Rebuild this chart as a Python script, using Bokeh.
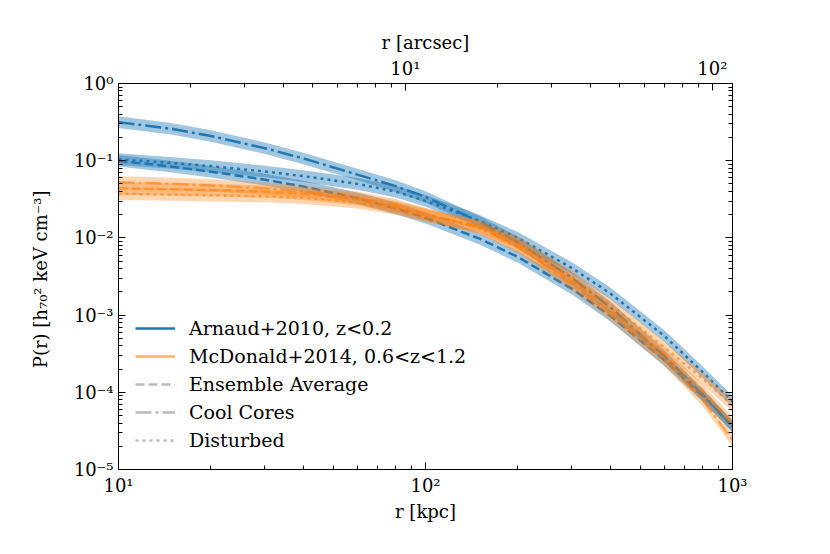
from bokeh.plotting import figure
from bokeh.models import (Range1d, LogAxis, LogScale, FixedTicker,
                          CustomJSTickFormatter, Legend, LegendItem)
from bokeh.embed import file_html
from bokeh.resources import INLINE

# ---------------- data ----------------
r_kpc = [10, 15, 20, 30, 40, 60, 80, 100, 150, 200, 300, 400, 600, 800, 1000]

# Arnaud+2010, z<0.2
a10_ensemble = [0.100, 0.0834, 0.0721, 0.0568, 0.0463, 0.0327, 0.0241, 0.0182,
                9.77e-3, 5.65e-3, 2.19e-3, 9.82e-4, 2.61e-4, 8.97e-5, 3.67e-5]
a10_cool = [0.316, 0.257, 0.209, 0.145, 0.107, 0.0661, 0.0468, 0.0339,
            0.0162, 8.71e-3, 3.02e-3, 1.26e-3, 2.95e-4, 9.33e-5, 3.55e-5]
a10_disturbed = [0.1047, 0.0933, 0.0851, 0.0724, 0.0631, 0.0501, 0.0398, 0.0302,
                 0.0166, 0.0100, 4.07e-3, 1.91e-3, 5.37e-4, 1.82e-4, 7.59e-5]

# McDonald+2014, 0.6<z<1.2
m14_ensemble = [0.0437, 0.0427, 0.0417, 0.0398, 0.0372, 0.0316, 0.0251, 0.0200,
                0.0138, 7.94e-3, 2.75e-3, 1.17e-3, 3.16e-4, 1.05e-4, 3.98e-5]
m14_cool = [0.0525, 0.0501, 0.0479, 0.0437, 0.0398, 0.0331, 0.0263, 0.0204,
            0.0135, 7.59e-3, 2.51e-3, 1.02e-3, 2.63e-4, 7.94e-5, 2.40e-5]
m14_disturbed = [0.0372, 0.0363, 0.0355, 0.0347, 0.0331, 0.0288, 0.0240, 0.0195,
                 0.0141, 8.71e-3, 3.16e-3, 1.38e-3, 3.80e-4, 1.51e-4, 6.76e-5]

# uncertainty band half-width (dex)
a10_band_dex = 0.075
m14_band_dex = 0.08

# kpc per arcsec for the top axis
kpc_per_arcsec = 8.6

x_major = [10, 100, 1000]
x_minor = [20, 30, 40, 50, 60, 70, 80, 90, 200, 300, 400, 500, 600, 700, 800, 900]
y_major = [1e-5, 1e-4, 1e-3, 1e-2, 1e-1, 1]
y_minor = [m * 10.0 ** e for e in range(-5, 0) for m in range(2, 10)]
arc_major = [10, 100]
arc_minor = [2, 3, 4, 5, 6, 7, 8, 9, 20, 30, 40, 50, 60, 70, 80, 90]

series_labels = ["Arnaud+2010, z<0.2", "McDonald+2014, 0.6<z<1.2"]
style_labels = ["Ensemble Average", "Cool Cores", "Disturbed"]

# ---------------- styles ----------------
BLUE = "#1f77b4"
ORANGE = "#ff7f0e"
SERIF = "DejaVu Serif"
DASH = "9 4"
DASHDOT = "16 4 3 4"
DOT = "3 4"
LW = 2.5

p = figure(width=828, height=552, x_axis_type="log", y_axis_type="log",
           x_range=Range1d(10, 1000), y_range=Range1d(1e-5, 1),
           output_backend="svg", toolbar_location=None,
           min_border_left=118, min_border_right=96,
           min_border_top=83, min_border_bottom=83,
           extra_x_ranges={"arc": Range1d(10 / kpc_per_arcsec, 1000 / kpc_per_arcsec)},
           extra_x_scales={"arc": LogScale()})
p.xgrid.visible = False
p.ygrid.visible = False
p.outline_line_color = "black"
p.outline_line_width = 1
p.background_fill_color = "white"
p.border_fill_color = "white"

sup_js = """
const sup = {"-": "\u207b", "0": "\u2070", "1": "\u00b9", "2": "\u00b2", "3": "\u00b3",
             "4": "\u2074", "5": "\u2075", "6": "\u2076", "7": "\u2077", "8": "\u2078", "9": "\u2079"};
const e = Math.round(Math.log10(tick));
let s = "";
for (const c of String(e)) { s += sup[c]; }
return "10" + s;
"""
blank_js = "return '';"


def style_axis(ax, labels=True, label_standoff=6):
    ax.major_tick_in = 7
    ax.major_tick_out = 0
    ax.minor_tick_in = 4
    ax.minor_tick_out = 0
    ax.axis_line_color = "black"
    ax.major_tick_line_color = "black"
    ax.minor_tick_line_color = "black"
    ax.major_label_text_font = SERIF
    ax.major_label_text_font_size = "18px"
    ax.major_label_text_color = "black"
    ax.axis_label_text_font = SERIF
    ax.axis_label_text_font_size = "18px"
    ax.axis_label_text_font_style = "normal"
    ax.axis_label_text_color = "black"
    ax.major_label_standoff = 5
    ax.axis_label_standoff = label_standoff
    ax.formatter = CustomJSTickFormatter(code=sup_js if labels else blank_js)


xb = p.xaxis[0]
xb.ticker = FixedTicker(ticks=x_major, minor_ticks=x_minor)
style_axis(xb, label_standoff=2)
xb.axis_label = "r [kpc]"

yl = p.yaxis[0]
yl.ticker = FixedTicker(ticks=y_major, minor_ticks=y_minor)
style_axis(yl, label_standoff=20)
yl.axis_label = "P(r)  [h\u2087\u2080\u00b2 keV cm\u207b\u00b3]"

yr = LogAxis(ticker=FixedTicker(ticks=y_major, minor_ticks=y_minor))
style_axis(yr, labels=False)
p.add_layout(yr, "right")

xt = LogAxis(x_range_name="arc", ticker=FixedTicker(ticks=arc_major, minor_ticks=arc_minor))
style_axis(xt, label_standoff=2)
xt.axis_label = "r [arcsec]"
p.add_layout(xt, "above")

# ---------------- curves ----------------
groups = [
    (BLUE, 1.0, 0.42, a10_band_dex, [a10_ensemble, a10_cool, a10_disturbed]),
    (ORANGE, 0.6, 0.32, m14_band_dex, [m14_ensemble, m14_cool, m14_disturbed]),
]
dashes = [DASH, DASHDOT, DOT]
for color, lalpha, balpha, bdex, curves in groups:
    f = 10.0 ** bdex
    for vals in curves:
        lo = [v / f for v in vals]
        hi = [v * f for v in vals]
        p.varea(x=r_kpc, y1=lo, y2=hi, fill_color=color, fill_alpha=balpha)
    for vals, dash in zip(curves, dashes):
        p.line(r_kpc, vals, line_color=color, line_alpha=lalpha, line_width=LW,
               line_dash=dash)

# ---------------- legend (proxy renderers hold no drawable points) ----------------
nan2 = [float("nan"), float("nan")]
leg_a = p.line(nan2, nan2, line_color=BLUE, line_width=LW)
leg_m = p.line(nan2, nan2, line_color=ORANGE, line_alpha=0.6, line_width=LW)
leg_e = p.line(nan2, nan2, line_color="#bbbbbb", line_width=LW, line_dash=DASH)
leg_c = p.line(nan2, nan2, line_color="#bbbbbb", line_width=LW, line_dash=DASHDOT)
leg_d = p.line(nan2, nan2, line_color="#bbbbbb", line_width=LW, line_dash=DOT)

legend = Legend(items=[
    LegendItem(label=series_labels[0], renderers=[leg_a]),
    LegendItem(label=series_labels[1], renderers=[leg_m]),
    LegendItem(label=style_labels[0], renderers=[leg_e]),
    LegendItem(label=style_labels[1], renderers=[leg_c]),
    LegendItem(label=style_labels[2], renderers=[leg_d]),
], location=(12, 12))
legend.border_line_alpha = 0
legend.background_fill_alpha = 0
legend.label_text_font = SERIF
legend.label_text_font_size = "19px"
legend.label_text_color = "black"
legend.glyph_width = 40
legend.glyph_height = 24
legend.label_height = 24
legend.spacing = 4
legend.padding = 5
legend.margin = 0
legend.label_standoff = 14
p.add_layout(legend)

open("out.html", "w").write(file_html(p, INLINE))
